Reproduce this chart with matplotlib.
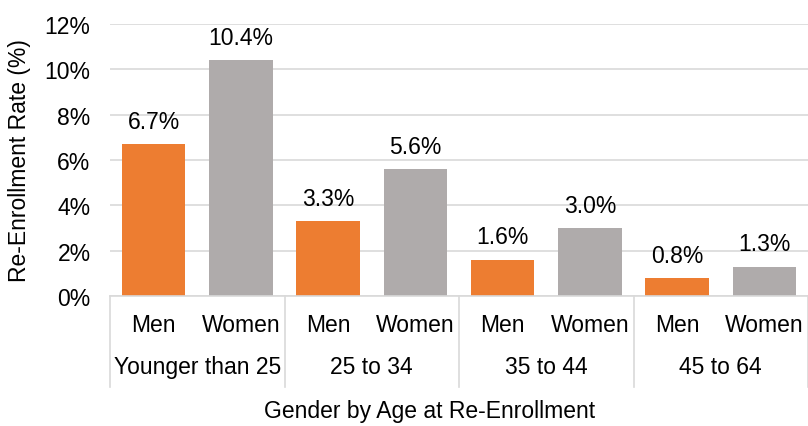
import matplotlib.pyplot as plt
import matplotlib.transforms as mtransforms
from matplotlib.lines import Line2D

plt.rcParams['font.family'] = ['Liberation Sans', 'DejaVu Sans']

age_groups = ["Younger than 25", "25 to 34", "35 to 44", "45 to 64"]
genders = ["Men", "Women"]
men = [6.7, 3.3, 1.6, 0.8]
women = [10.4, 5.6, 3.0, 1.3]

orange = "#ED7D31"
gray = "#AFABAB"
grid = "#D9D9D9"
fs = 16.5

fig = plt.figure(figsize=(8.08, 4.27), dpi=100)
ax = fig.add_axes([110 / 808, 1 - 297 / 427, 698 / 808, 272 / 427])

width = 0.73
for i in range(len(age_groups)):
    xm = 2 * i + 0.5
    xw = 2 * i + 1.5
    ax.bar(xm, men[i], width=width, color=orange, zorder=2)
    ax.bar(xw, women[i], width=width, color=gray, zorder=2)
    ax.text(xm, men[i] + 0.5, f"{men[i]:.1f}%", ha="center", va="bottom", fontsize=fs)
    ax.text(xw, women[i] + 0.5, f"{women[i]:.1f}%", ha="center", va="bottom", fontsize=fs)

ax.set_xlim(0, 8)
ax.set_ylim(0, 12)
ax.set_yticks(range(0, 13, 2))
ax.set_yticklabels([f"{v}%" for v in range(0, 13, 2)], fontsize=fs)
ax.yaxis.grid(True, color=grid, linewidth=1.2, zorder=0)
ax.set_axisbelow(True)
ax.tick_params(axis="y", length=0, pad=14)
ax.set_xticks([])
for s in ["top", "right", "left"]:
    ax.spines[s].set_visible(False)
ax.spines["bottom"].set_color(grid)
ax.spines["bottom"].set_linewidth(1.2)

ax.set_ylabel("Re-Enrollment Rate (%)", fontsize=fs, labelpad=10)

# multi-level category labels
trans = mtransforms.blended_transform_factory(ax.transData, fig.transFigure)
for i, grp in enumerate(age_groups):
    for j, g in enumerate(genders):
        ax.text(2 * i + j + 0.5, 1 - 326 / 427, g, transform=trans,
                ha="center", va="center", fontsize=fs)
    ax.text(2 * i + 1, 1 - 368 / 427, grp, transform=trans,
            ha="center", va="center", fontsize=fs)
for k in range(5):
    ax.add_line(Line2D([2 * k, 2 * k], [1 - 297 / 427, 1 - 388 / 427], transform=trans,
                       color=grid, linewidth=1.2, clip_on=False))

fig.text(430 / 808, 1 - 412 / 427, "Gender by Age at Re-Enrollment",
         ha="center", va="center", fontsize=fs)

fig.savefig("out.png", dpi=100)
